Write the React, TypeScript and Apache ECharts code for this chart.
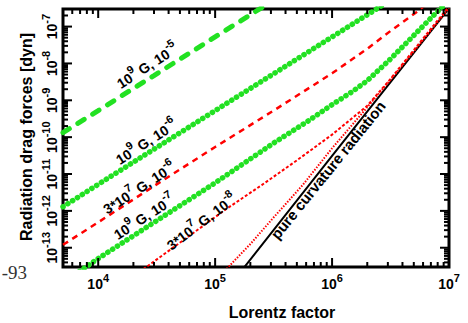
import React, { useEffect, useRef } from 'react';
import * as echarts from 'echarts';

// ---- axis ranges ----
const X_MIN = 5e3;
const X_MAX = 1e7;
const Y_MIN = 3e-14;
const Y_MAX = 3e-7;

// ---- tick structure (decades and minor multipliers) ----
const xDecades = [1e3, 1e4, 1e5, 1e6, 1e7];
const yDecades = [1e-14, 1e-13, 1e-12, 1e-11, 1e-10, 1e-9, 1e-8, 1e-7];
const minorMultipliers = [2, 3, 4, 5, 6, 7, 8, 9];

// ---- series data (Lorentz factor, force in dyn) ----
// 10^9 G, 10^-5 (green dashed)
const gammaG5 = [5e3, 1e4, 3e4, 1e5, 3e5];
const forceG5 = [1.32e-10, 5.25e-10, 4.7e-9, 5.25e-8, 4.7e-7];

// 10^9 G, 10^-6 (green dots)
const gammaG6 = [5e3, 1e4, 1e5, 1e6, 3e6];
const forceG6 = [1.29e-12, 5.25e-12, 5.25e-10, 5.25e-8, 4.7e-7];

// 3*10^7 G, 10^-6 (red dashed)
const gammaR6 = [5e3, 1e4, 3.16e4, 1e5, 3.16e5, 1e6, 2e6, 3.16e6, 5.3e6, 7.1e6];
const forceR6 = [1.2e-13, 4.9e-13, 5.25e-12, 5.4e-11, 5.25e-10, 5.4e-9, 2.5e-8, 7.6e-8, 2.5e-7, 5.2e-7];

// 10^9 G, 10^-7 (green dots)
const gammaG7 = [6.3e3, 1e4, 3.16e4, 1e5, 3.16e5, 6.3e5, 1e6, 1.5e6, 2e6, 3.16e6, 5e6, 7.2e6, 1e7];
const forceG7 = [1.86e-14, 5.1e-14, 5.4e-13, 5.75e-12, 6.9e-11, 2.8e-10, 7.6e-10, 1.75e-9, 3.4e-9, 1.32e-8, 5.75e-8, 1.86e-7, 5.2e-7];

// 3*10^7 G, 10^-8 (red fine dashes)
const gammaR8 = [2.24e4, 2.58e4, 5.6e4, 1.26e5, 2.5e5, 5e5, 1e6, 2e6, 3.16e6, 5.25e6, 7.9e6, 1e7];
const forceR8 = [2.2e-14, 3e-14, 1.78e-13, 1.15e-12, 5e-12, 2.35e-11, 1.17e-10, 7.1e-10, 3.8e-9, 2.8e-8, 1.4e-7, 3.5e-7];

// red dotted, close to curvature line
const gammaRc = [1.12e5, 1.29e5, 2e5, 3.16e5, 5.6e5, 1e6, 1.78e6, 3.16e6, 5.6e6, 1e7];
const forceRc = [1.74e-14, 2.95e-14, 1.26e-13, 6.6e-13, 5e-12, 5e-11, 4.2e-10, 3.6e-9, 3.3e-8, 3.16e-7];

// pure curvature radiation (black solid)
const gammaCurv = [1.5e5, 1e6, 1e7];
const forceCurv = [1.5e-14, 3.1e-11, 3.1e-7];

const FONT = '"Liberation Sans", Arial, Helvetica, sans-serif';
const GREEN = '#22e122';
const RED = '#ff0000';

const pairs = (g: number[], f: number[]) => g.map((v, i) => [v, f[i]]);

const richStyles = {
  b: { fontSize: 14, fontWeight: 'bold', fontFamily: FONT, lineHeight: 19, verticalAlign: 'bottom', color: '#000' },
  s: { fontSize: 11, fontWeight: 'bold', fontFamily: FONT, verticalAlign: 'top', color: '#000' },
};

const powLabel = (v: number) => {
  const e = Math.log10(v);
  const r = Math.round(e);
  if (Math.abs(e - r) > 1e-6) return '';
  return `{b|10}{s|${r}}`;
};

function buildTicks() {
  const out: number[][] = [];
  const inside = (v: number, lo: number, hi: number) => v > lo * 1.001 && v < hi * 0.999;
  xDecades.forEach((d) => {
    if (inside(d, X_MIN, X_MAX)) out.push([d, 1e-10, 0, 1]);
    minorMultipliers.forEach((m) => {
      const v = d * m;
      if (inside(v, X_MIN, X_MAX)) out.push([v, 1e-10, 0, 0]);
    });
  });
  yDecades.forEach((d) => {
    if (inside(d, Y_MIN, Y_MAX)) out.push([1e5, d, 1, 1]);
    minorMultipliers.forEach((m) => {
      const v = d * m;
      if (inside(v, Y_MIN, Y_MAX)) out.push([1e5, v, 1, 0]);
    });
  });
  return out;
}

const label = (text: string, x: number, y: number, deg: number) => ({
  type: 'text',
  x,
  y,
  rotation: (deg * Math.PI) / 180,
  style: {
    text,
    rich: richStyles,
    align: 'center',
    verticalAlign: 'middle',
    fill: '#000',
    font: `bold 14px ${FONT}`,
  },
  z: 100,
});

export default function App() {
  const ref = useRef<HTMLDivElement>(null);

  useEffect(() => {
    const chart = echarts.init(ref.current!, null, { renderer: 'svg' });
    const lineSeries = (data: number[][], lineStyle: any, z: number) => ({
      type: 'line',
      data,
      symbol: 'none',
      showSymbol: false,
      smooth: false,
      lineStyle,
      z,
      silent: true,
    });

    const option: any = {
      animation: false,
      backgroundColor: '#fff',
      grid: {
        left: 63,
        top: 9,
        right: 19,
        bottom: 56,
        show: true,
        borderColor: '#000',
        borderWidth: 3,
        backgroundColor: 'transparent',
      },
      xAxis: {
        type: 'log',
        logBase: 10,
        min: X_MIN,
        max: X_MAX,
        axisLine: { show: false },
        axisTick: { show: false },
        splitLine: { show: false },
        minorTick: { show: false },
        axisLabel: {
          formatter: powLabel,
          rich: richStyles,
          margin: 5,
          showMinLabel: false,
        },
      },
      yAxis: {
        type: 'log',
        logBase: 10,
        min: Y_MIN,
        max: Y_MAX,
        axisLine: { show: false },
        axisTick: { show: false },
        splitLine: { show: false },
        minorTick: { show: false },
        axisLabel: {
          formatter: powLabel,
          rich: richStyles,
          rotate: 90,
          margin: 4,
          showMinLabel: false,
          showMaxLabel: false,
        },
      },
      series: [
        {
          type: 'custom',
          data: buildTicks(),
          encode: { x: 0, y: 1 },
          silent: true,
          z: 20,
          renderItem: (params: any, api: any) => {
            const cs = params.coordSys;
            const kind = api.value(2);
            const major = api.value(3);
            const len = major ? 9 : 5;
            const st = { stroke: '#000', lineWidth: 2 };
            if (kind === 0) {
              const x = api.coord([api.value(0), 1e-10])[0];
              const b = cs.y + cs.height;
              return {
                type: 'group',
                children: [
                  { type: 'line', shape: { x1: x, y1: b, x2: x, y2: b - len }, style: st },
                  { type: 'line', shape: { x1: x, y1: cs.y, x2: x, y2: cs.y + len }, style: st },
                ],
              };
            }
            const y = api.coord([1e5, api.value(1)])[1];
            const r = cs.x + cs.width;
            return {
              type: 'group',
              children: [
                { type: 'line', shape: { x1: cs.x, y1: y, x2: cs.x + len, y2: y }, style: st },
                { type: 'line', shape: { x1: r, y1: y, x2: r - len, y2: y }, style: st },
              ],
            };
          },
        },
        lineSeries(pairs(gammaCurv, forceCurv), { color: '#000', width: 2, type: 'solid' }, 3),
        lineSeries(pairs(gammaRc, forceRc), { color: RED, width: 2, type: [1.5, 1.5] }, 4),
        lineSeries(pairs(gammaR8, forceR8), { color: RED, width: 2, type: [3, 2] }, 4),
        lineSeries(pairs(gammaR6, forceR6), { color: RED, width: 2.5, type: [6, 5] }, 4),
        lineSeries(pairs(gammaG7, forceG7), { color: GREEN, width: 5.5, type: [0.1, 5.6], cap: 'round' }, 5),
        lineSeries(pairs(gammaG6, forceG6), { color: GREEN, width: 5.5, type: [0.1, 5.6], cap: 'round' }, 5),
        lineSeries(pairs(gammaG5, forceG5), { color: GREEN, width: 5, type: [7.5, 10], cap: 'round' }, 5),
      ],
      graphic: [
        label('{b|10}{s|9}{b| G, 10}{s|-5}', 146, 64, 33),
        label('{b|10}{s|9}{b| G, 10}{s|-6}', 145, 140, 33),
        label('{b|3*10}{s|7}{b| G, 10}{s|-6}', 138, 186, 33),
        label('{b|10}{s|9}{b| G, 10}{s|-7}', 143, 215, 33),
        label('{b|3*10}{s|7}{b| G, 10}{s|-8}', 200, 220, 37),
        {
          type: 'text',
          x: 328,
          y: 170,
          rotation: (51 * Math.PI) / 180,
          style: { text: 'pure curvature radiation', align: 'center', verticalAlign: 'middle', fill: '#000', font: `bold 15px ${FONT}` },
          z: 100,
        },
        {
          type: 'text',
          x: 282,
          y: 312,
          style: { text: 'Lorentz factor', align: 'center', verticalAlign: 'middle', fill: '#000', font: `bold 16px ${FONT}` },
          z: 100,
        },
        {
          type: 'text',
          x: 26,
          y: 137,
          rotation: Math.PI / 2,
          style: { text: 'Radiation drag forces [dyn]', align: 'center', verticalAlign: 'middle', fill: '#000', font: `bold 16px ${FONT}` },
          z: 100,
        },
        {
          type: 'text',
          x: 27,
          y: 272,
          style: { text: '-93', align: 'right', verticalAlign: 'middle', fill: '#333', font: `19px "Liberation Serif", "Times New Roman", serif` },
          z: 100,
        },
      ],
    };
    chart.setOption(option);
    return () => chart.dispose();
  }, []);

  return (
    <div
      ref={ref}
      style={{ position: 'fixed', left: 0, top: 0, width: 468, height: 323, background: '#fff' }}
    />
  );
}
